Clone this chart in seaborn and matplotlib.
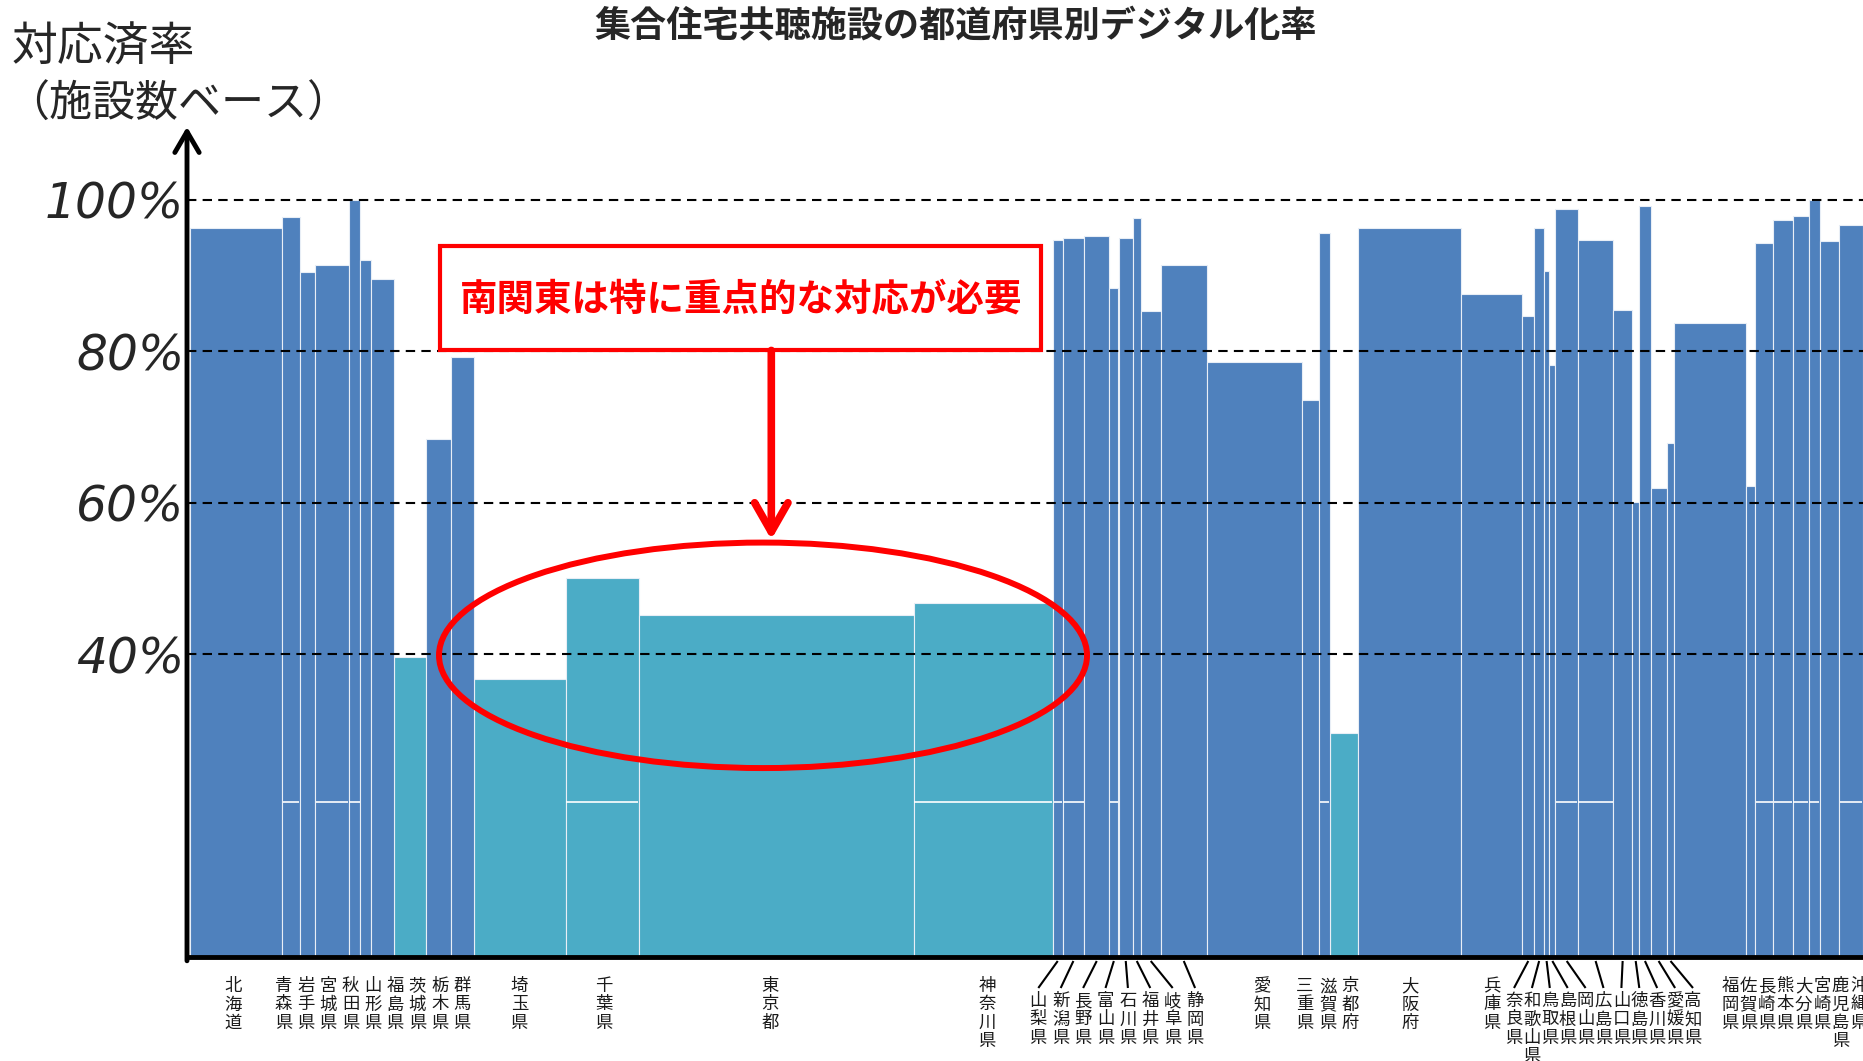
import numpy as np
import pandas as pd
import seaborn as sns
import matplotlib.pyplot as plt
from matplotlib.patches import Ellipse, Rectangle

# data: bar widths ~ number of facilities, heights = digital rate (%)
prefs = ['北海道', '青森県', '岩手県', '宮城県', '秋田県', '山形県', '福島県', '茨城県', '栃木県', '群馬県',
         '埼玉県', '千葉県', '東京都', '神奈川県', '山梨県', '新潟県', '長野県', '富山県', '石川県', '福井県',
         '岐阜県', '静岡県', '愛知県', '三重県', '滋賀県', '京都府', '大阪府', '兵庫県', '奈良県', '和歌山県',
         '鳥取県', '島根県', '岡山県', '広島県', '山口県', '徳島県', '香川県', '愛媛県', '高知県', '福岡県',
         '佐賀県', '長崎県', '熊本県', '大分県', '宮崎県', '鹿児島県', '沖縄県']
widths = [92.3, 17.7, 15.3, 33.4, 11.5, 10.8, 23.0, 32.2, 25.0, 22.8,
          91.5, 73.5, 274.5, 139.5, 9.5, 21.8, 24.9, 9.3, 14.5, 7.5,
          20.5, 45.5, 95.7, 16.8, 10.8, 28.7, 102.8, 61.0, 12.0, 9.7,
          5.2, 6.3, 22.4, 35.4, 18.7, 7.4, 11.1, 16.2, 7.6, 71.7,
          9.3, 17.9, 19.6, 15.7, 11.1, 19.8, 23.6]
rates = [96.2, 97.7, 90.4, 91.3, 100.0, 92.0, 89.5, 39.6, 68.4, 79.2,
         36.7, 50.0, 45.1, 46.8, 94.6, 94.9, 95.2, 88.3, 94.9, 97.6,
         85.3, 91.4, 78.5, 73.6, 95.6, 29.6, 96.3, 87.5, 84.6, 96.3,
         90.6, 78.2, 98.8, 94.6, 85.4, 60.1, 99.2, 61.9, 67.9, 83.7,
         62.2, 94.3, 97.3, 97.8, 99.9, 94.5, 96.7]
low_prefs = ['茨城県', '埼玉県', '千葉県', '東京都', '神奈川県', '京都府']
# bars that show a faint white line near 20%
white_line_prefs = ['青森県', '宮城県', '秋田県', '千葉県', '神奈川県', '山梨県', '新潟県', '富山県',
                    '滋賀県', '岡山県', '広島県', '長崎県', '熊本県', '大分県', '宮崎県', '沖縄県']
yticks = [40, 60, 80, 100]
title = '集合住宅共聴施設の都道府県別デジタル化率'
ylabel_lines = ['対応済率', '（施設数ベース）']
note = '南関東は特に重点的な対応が必要'

edges = np.concatenate([[0], np.cumsum(widths)])
centers = (edges[:-1] + edges[1:]) / 2
df = pd.DataFrame({'pref': prefs, 'x': centers, 'rate': rates})
df['grp'] = np.where(df['pref'].isin(low_prefs), 'low', 'high')

sns.set_style('white')
plt.rcParams['font.family'] = ['Noto Sans CJK JP', 'DejaVu Sans']

W, H = 1863, 1061
fig = plt.figure(figsize=(W / 100, H / 100), dpi=100)
base_px, top_px = 957, 123.8
ax = fig.add_axes([187 / W, (H - base_px) / H, (W - 187) / W, (base_px - top_px) / H])

sns.histplot(data=df, x='x', weights='rate', bins=list(edges), hue='grp',
             palette={'high': '#4F81BD', 'low': '#4BACC6'}, multiple='layer',
             alpha=1, edgecolor='#e8eef6', linewidth=0.8, legend=False, ax=ax)

ax.set_xlim(-3, edges[-1])
ax.set_ylim(0, 110)
ax.set_xlabel('')
ax.set_ylabel('')
ax.set_xticks([])
ax.set_yticks(yticks)
ax.set_yticklabels([f'{t}%' for t in yticks], fontsize=35, style='italic', family='DejaVu Sans')
ax.tick_params(axis='y', length=0, pad=2)
for s in ['top', 'right', 'left']:
    ax.spines[s].set_visible(False)
ax.spines['bottom'].set_linewidth(3.5)
ax.spines['bottom'].set_color('black')
ax.spines['bottom'].set_zorder(6)

# faint white lines
for p, l, r in zip(prefs, edges[:-1], edges[1:]):
    if p in white_line_prefs:
        ax.hlines(20.5, l + 0.6, r - 0.6, color='white', lw=1.2, zorder=3)

ax.hlines(yticks, -3, edges[-1], colors='black', lw=1.5, linestyles=(0, (4.5, 3)), zorder=4)

# y axis with arrow
ax.annotate('', xy=(-3, 109.6), xytext=(-3, -0.5),
            arrowprops=dict(arrowstyle='->,head_length=0.6,head_width=0.35', lw=3.5,
                            color='black', mutation_scale=25, shrinkA=0, shrinkB=0),
            annotation_clip=False, zorder=7)


def py(y_px):
    return (base_px - y_px) / 7.575


def px(x_px):
    return x_px - 190


# prefecture labels (vertical), leader lines for crowded groups
label_x = ([233] + list(283.6 + 22.3 * np.arange(9)) + [519.3, 604, 770, 987]
           + list(1038.3 + 22.4 * np.arange(8))
           + [1261.7, 1305, 1328.3, 1350, 1410, 1491.7]
           + list(1514 + 17.9 * np.arange(11))
           + list(1730 + 18.4 * np.arange(8)))
leader = set(range(14, 22)) | set(range(28, 39))
for i, (name, lx) in enumerate(zip(prefs, label_x)):
    top = 1001 if i in leader else 986
    for k, ch in enumerate(name):
        ax.text(px(lx), py(top + 18.5 * k), ch, ha='center', va='center',
                fontsize=12.5, color='#1a1a1a', clip_on=False)
    if i in leader:
        ax.plot([centers[i], px(lx)], [py(961), py(988)], color='black', lw=1.5,
                clip_on=False, solid_capstyle='butt')

# callout
ax.add_patch(Rectangle((px(440), py(350.4)), 601.4, py(246) - py(350.4), facecolor='white',
                       edgecolor='#ff0000', lw=3, zorder=8))
ax.text(px(740.7), py(298.6), note, color='#ff0000', fontsize=27, weight='bold',
        ha='center', va='center', zorder=9)
ax.annotate('', xy=(px(771.3), py(539.6)), xytext=(px(771.3), py(350.4)),
            arrowprops=dict(arrowstyle='->,head_length=0.7,head_width=0.4', lw=5.5,
                            color='#ff0000', mutation_scale=30, shrinkA=0, shrinkB=0),
            zorder=9)
ax.add_patch(Ellipse((px(763), py(655.3)), 648, 225.5 / 7.575, facecolor='none',
                     edgecolor='#ff0000', lw=4.3, zorder=9))

fig.text(956 / W, 1 - 27 / H, title, ha='center', va='center', fontsize=26, weight='bold')
fig.text(12 / W, 1 - 47 / H, ylabel_lines[0], ha='left', va='center', fontsize=33)
fig.text(6 / W, 1 - 105 / H, ylabel_lines[1], ha='left', va='center', fontsize=31)

fig.savefig('out.png', dpi=100)
